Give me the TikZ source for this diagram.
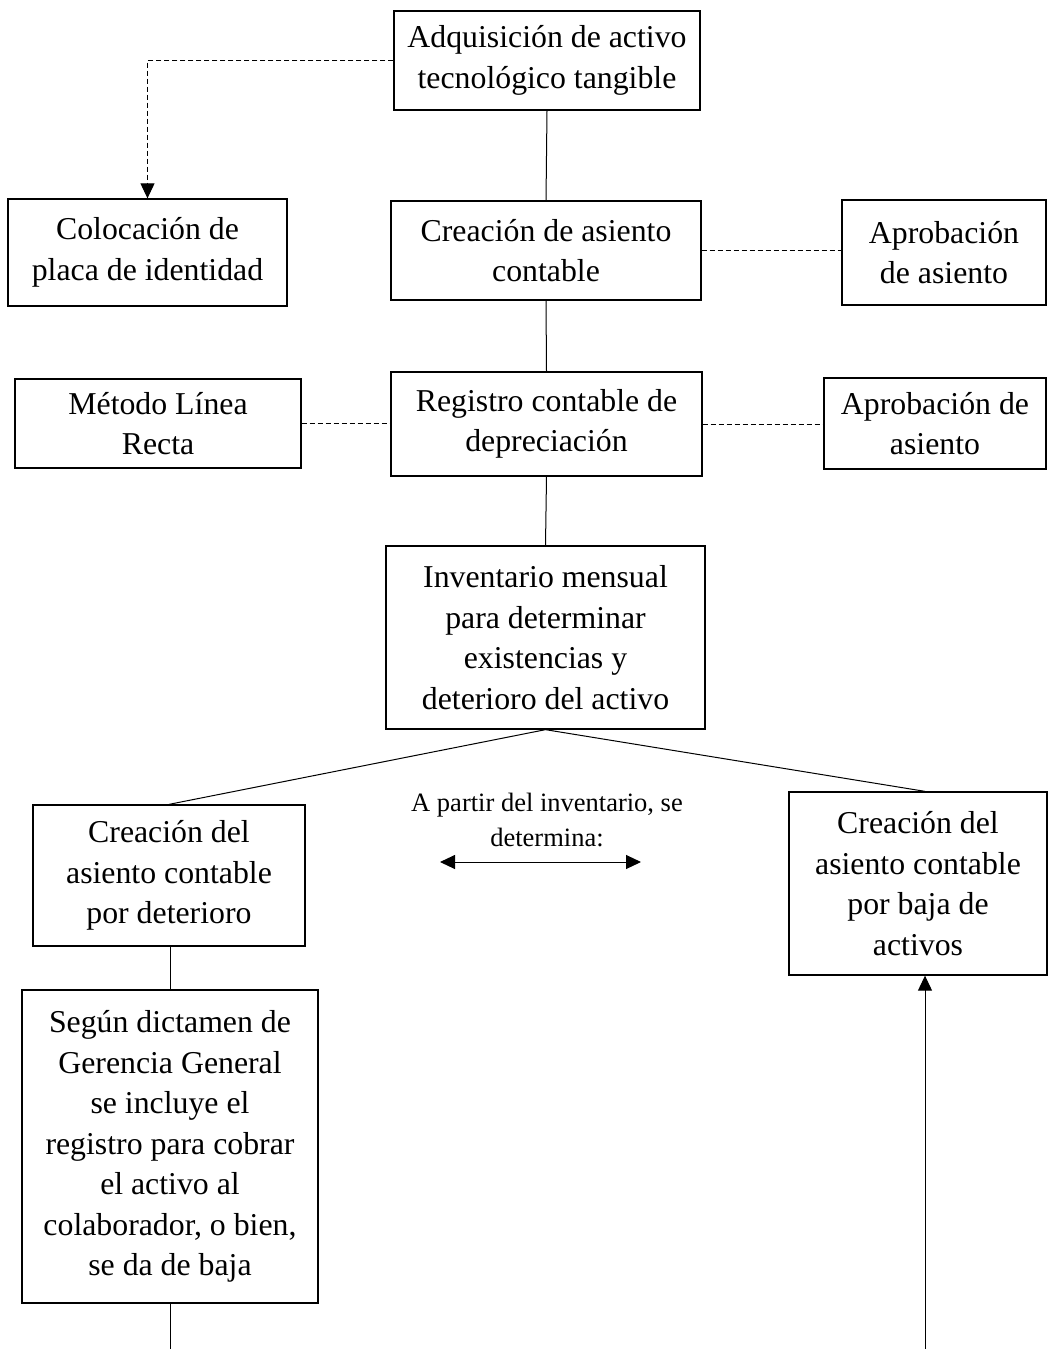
\documentclass[tikz,border=0pt]{standalone}
\usepackage{fontspec}
\setmainfont{Liberation Serif}
\usepackage{tikz}
\usetikzlibrary{arrows.meta,positioning,calc}

\begin{document}
\begin{tikzpicture}[x=1pt,y=-1pt,line width=1pt,
		box/.style={draw,line width=1.3pt,align=center,inner sep=0pt,font=\fontsize{31.8}{40.5}\selectfont},
		link/.style={dash pattern=on 5pt off 3pt},
		tip/.style={-{Triangle[length=15pt,width=14pt]}},
		tips/.style={{Triangle[length=15pt,width=14pt]}-{Triangle[length=15pt,width=14pt]}}]
		\useasboundingbox (0,0) rectangle (1047,1349);
		\node[box,minimum width=306pt,minimum height=99pt] (adq) at (547,60.5) {Adquisición de activo\\tecnológico tangible};
		\node[box,minimum width=279pt,minimum height=107pt] (placa) at (147.5,252.5) {Colocación de\\placa de identidad};
		\node[box,minimum width=310pt,minimum height=99pt] (asiento) at (546,250.5) {Creación de asiento\\contable};
		\node[box,minimum width=204pt,minimum height=105pt] (aprob1) at (944,252.5) {Aprobación\\de asiento};
		\node[box,minimum width=286pt,minimum height=89pt] (metodo) at (158,423.5) {Método Línea\\Recta};
		\node[box,minimum width=311pt,minimum height=104pt] (registro) at (546.5,424) {Registro contable de\\depreciación};
		\node[box,minimum width=222pt,minimum height=91pt] (aprob2) at (935,423.5) {Aprobación de\\asiento};
		\node[box,minimum width=319pt,minimum height=183pt] (inv) at (545.5,637.5) {Inventario mensual\\para determinar\\existencias y\\deterioro del activo};
		\node[box,minimum width=272pt,minimum height=141pt] (deter) at (169,875.5) {Creación del\\asiento contable\\por deterioro};
		\node[box,minimum width=258pt,minimum height=183pt] (baja) at (918,883.5) {Creación del\\asiento contable\\por baja de\\activos};
		\node[box,minimum width=296pt,minimum height=313pt] (dictamen) at (170,1146.5) {Según dictamen de\\Gerencia General\\se incluye el\\registro para cobrar\\el activo al\\colaborador, o bien,\\se da de baja};
		\node[align=center,inner sep=0pt,font=\fontsize{26.5}{35}\selectfont] (nota) at (547,820) {A partir del inventario, se\\determina:};
		\coordinate (ida) at (440,862);
		\coordinate (vuelta) at (641,862);
		\coordinate (fin1) at (170,1349);
		\coordinate (fin2) at (925,1349);

		\draw[link,tip] (adq.west) -| (placa.north);
		\draw (adq.south) -- (asiento.north);
		\draw[link] (asiento.east) -- (aprob1.west |- asiento.east);
		\draw (asiento.south) -- (registro.north);
		\draw[link] (metodo.east) -- (registro.west |- metodo.east);
		\draw[link] (registro.east) -- (aprob2.west |- registro.east);
		\draw (registro.south) -- (inv.north);
		\draw (inv.south) -- (deter.north);
		\draw (inv.south) -- (baja.north -| fin2);
		\draw[tips] (ida) -- (vuelta);
		\draw (deter.south -| dictamen.north) -- (dictamen.north);
		\draw (dictamen.south) -- (fin1);
		\draw[tip] (fin2) -- (baja.south -| fin2);
\end{tikzpicture}
\end{document}
